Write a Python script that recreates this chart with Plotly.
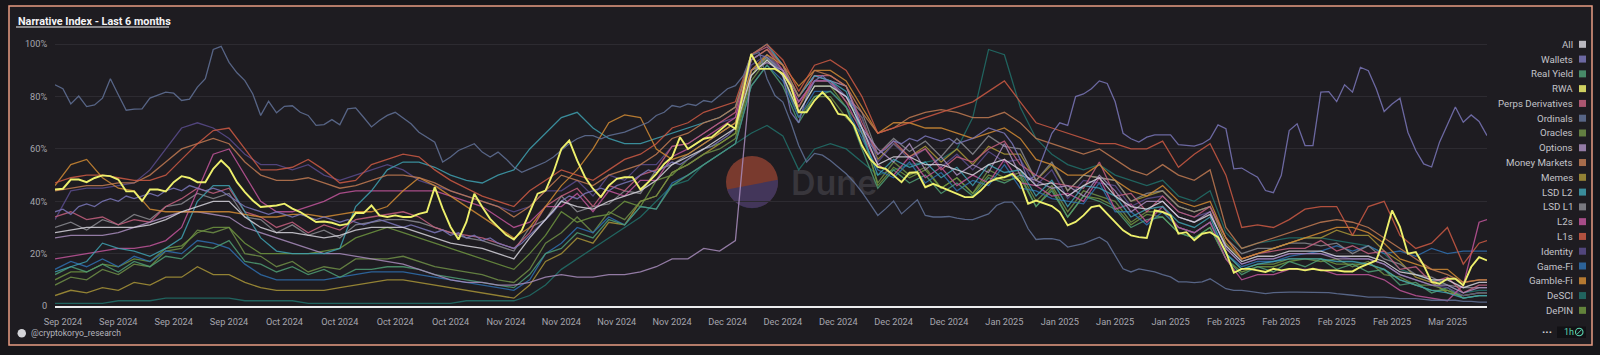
import base64
import pandas as pd
import plotly.graph_objects as go

# ---------------- data ----------------
START = "2024-09-07"
daily_dates = pd.date_range(START, periods=182, freq="D")
coarse_dates = list(pd.date_range(START, periods=91, freq="2D")) + [daily_dates[-1]]
tick_dates = pd.date_range("2024-09-08", periods=26, freq="7D")
tick_labels = [d.strftime("%b %Y") for d in tick_dates]
y_ticks = [0, 20, 40, 60, 80, 100]
y_tick_labels = ["0", "20%", "40%", "60%", "80%", "100%"]

legend_order = ["All", "Wallets", "Real Yield", "RWA", "Perps Derivatives", "Ordinals",
                "Oracles", "Options", "Money Markets", "Memes", "LSD L2", "LSD L1",
                "L2s", "L1s", "Identity", "Game-Fi", "Gamble-Fi", "DeSCI", "DePIN"]

colors = {
    "All": "#d6d4dc", "Wallets": "#7a76b8", "Real Yield": "#4f9d74", "RWA": "#eef06c",
    "Perps Derivatives": "#c4607f", "Ordinals": "#627298", "Oracles": "#6f8f47",
    "Options": "#a88cbc", "Money Markets": "#c07a52", "Memes": "#a89438",
    "LSD L2": "#3fa0b0", "LSD L1": "#8a8a90", "L2s": "#c0559a", "L1s": "#cc5a44",
    "Identity": "#5a4c8c", "Game-Fi": "#2f6fae", "Gamble-Fi": "#d08a34",
    "DeSCI": "#22706a", "DePIN": "#6e9440",
}

# daily series (%)
rwa = [44.5, 44.8, 48.3, 48.3, 47.3, 48.9, 49.9, 49.6, 48.3, 43.8, 43.8, 40.1, 44.5, 44.5, 43.8, 47.3,
       49.6, 48.9, 47.3, 47.3, 52.4, 55.6, 52.7, 47.3, 43.5, 40.3, 37.8, 38.2, 38.4, 39.1, 37.2, 35.9,
       34, 32.1, 32.3, 31.8, 30.8, 31.4, 35.5, 35.5, 38.4, 34.6, 34, 34.6, 34, 34, 35.2,
       35.9, 45.4, 37.2, 30.2, 25.4, 32.1, 42.9, 37.8, 33.3, 30.2, 27.2, 25.4, 28.9, 35.9, 42.9, 44.1,
       51.1, 60, 63.2, 55.6, 49.2, 44.8, 41.6, 46, 48.6, 49.2, 49.2, 44.5, 47.3, 50.5, 54.3, 56.9,
       64.5, 60, 62, 63.9, 64.5, 67, 69.6, 67.7, 81.7, 96.3, 90.6, 90.6,
       90.6, 88.7, 84.2, 74, 74, 78.5, 81.7, 78.5, 73.4, 72.8, 69, 61.3, 56.2, 53.1, 52.4, 49.9,
       47.3, 50.9, 51.1, 45.4, 46.7, 45.4, 44.1, 42.9, 41.6, 41.6, 44.1, 47.3, 48.6, 49.2, 50.5, 47.3,
       39.1, 40.3, 39.1, 38.2, 35.9, 30.8, 32.1, 34.6, 37.8, 38.4, 35.2, 32.1, 28.9, 27, 26.3,
       26, 36.5, 35.9, 34.6, 27.6, 28.2, 25.1, 27.6, 28.2, 26.3, 20.6, 12.7, 14.2, 14.2, 13.6, 13,
       14.2, 13.6, 14.2, 14.2, 13.6, 14.2, 13.6, 13.6, 13.6, 13.2, 13.2, 14.9, 16.2, 17.4, 25.7, 36.5,
       30.2, 20, 20.6, 15.5, 9.2, 8.5, 10.4, 10.4, 7.9, 14.9, 18.7, 17.4]

ordinals = [84.5, 83, 77.2, 80.2, 76.2, 76.8, 79.4, 86.8, 80.7, 74.8, 75.2, 75.3, 79.4, 80.4, 81.7, 81.3,
            78.5, 79, 83.6, 86.8, 98, 99.2, 93.1, 89.1, 86.1, 81, 72.8, 78.2, 73.8, 76.3, 76.5, 74,
            72.8, 69, 69.3, 71.2, 69.2, 75.3, 75.7, 72.1, 68.4, 70.9, 72.8, 74, 71.9, 69.6, 66.4,
            64.5, 62.6, 55, 56.9, 59.4, 60.7, 62, 58.8, 56.9, 58.8, 56.2, 53.1, 51.1, 52.4, 53.7, 55,
            56.9, 59.4, 62, 63.9, 65.1, 65.1, 63.9, 65.1, 65.8, 66.4, 67.7, 69, 70.2, 72.8, 74, 76.6,
            76, 77.2, 76.6, 78.5, 77.9, 80.4, 83, 84.2, 88, 95.7, 96.9, 86.8,
            80.4, 77.9, 70.2, 61.3, 55, 58.3, 57.6, 55.6, 53.1, 50.5, 47.3, 43.5, 39.1, 34.6, 37.2, 40.1,
            35.2, 37.8, 40.6, 34.6, 34, 34, 34.2, 33.6, 33.1, 33, 34, 35.2, 38.4, 39.7, 39.7, 35.9,
            29.5, 25.4, 25.7, 25.7, 25.1, 22.5, 23.2, 23.8, 25.1, 26.3, 24.4, 19.3, 14.2, 13, 14.2,
            13.6, 13, 12, 11.1, 9.2, 9.2, 8.9, 9.2, 10.4, 8.5, 6.6, 6, 6, 5.6, 5.1, 4.7,
            5.1, 5.3, 5.3, 5.3, 5.3, 5.3, 5.3, 5.1, 4.7, 4.3, 4.1, 3.8, 3.4, 3.4, 3.4, 3.1,
            2.8, 2.8, 2.8, 2.5, 2.2, 2.2, 2.2, 2.2, 1.8, 1.8, 1.5, 1.5]

wallets = [36, 37, 35, 38, 39, 38, 40, 41, 40, 42,
           41, 42, 43, 42, 44, 45, 44, 46, 45, 44,
           45, 44, 42, 40, 38, 37, 36, 35, 36, 35,
           34, 35, 34, 33, 34, 33, 32, 33, 32, 31,
           32, 33, 32, 31, 30, 31, 30, 29, 28, 29,
           27, 28, 26, 27, 25, 26, 24, 23, 22, 24,
           27, 30, 33, 36, 40, 42, 41, 43, 44, 45,
           44, 46, 47, 48, 50, 52, 51, 53, 55, 54,
           56, 58, 60, 61, 63, 65, 68, 82, 94, 96,
           95, 92, 88, 74, 70, 80, 86, 88, 85, 82,
           80, 76, 68, 62, 58, 60, 63, 62, 64, 63,
           65, 64, 63, 64, 62, 63, 64, 66, 68, 67,
           66, 62, 56, 48, 50, 58, 66, 70, 69, 80,
           81, 83, 86, 85, 78, 66,
           63.9, 62.6, 64.5, 65.4, 65.4, 65.4, 61.6, 61.3, 61.1, 62, 63.9, 69.2, 67.7, 52.4, 52.7, 50.9,
           49.2, 44.1, 43.3, 49.9, 67, 69.6, 61.3, 61.3, 81.7, 81.9, 78.1, 84.5, 81.7, 91.2, 89.9, 83,
           74.3, 77.2, 79.4, 66.4, 59.4, 54.3, 53.1, 62.6, 69, 76, 70.2, 73, 70.5, 65.1]

# two-day series (%)
all_idx = [28, 29, 30, 30, 30, 30, 31, 33, 36, 38,
           40, 40, 34, 30, 28, 28, 27, 26, 27, 29,
           30, 30, 30, 28, 26, 24, 23, 22, 20, 18,
           26, 33, 40, 38, 37, 40, 42, 44, 48, 54,
           57, 60, 64, 68, 88, 94, 88, 74, 84, 84,
           80, 68, 54, 57, 57, 54, 54, 52, 50, 54,
           56, 52, 46, 47, 42, 46, 49, 42, 38, 37,
           40, 34, 32, 35, 23, 17, 19, 19, 21, 21,
           21, 19, 19, 19, 17, 13, 12, 10, 10, 7,
           9, 9]
real_yield = [12, 15, 13, 16, 13, 17, 15, 19, 18, 23,
              22, 25, 17, 16, 13, 15, 12, 14, 11, 14,
              14, 15, 15, 14, 12, 11, 10, 9, 8, 7,
              12, 20, 22, 28, 26, 33, 31, 38, 37, 46,
              50, 54, 58, 62, 84, 92, 84, 70, 80, 82,
              76, 60, 45, 52, 47, 50, 43, 47, 42, 49,
              47, 50, 38, 44, 34, 42, 40, 37, 30, 33,
              34, 28, 26, 30, 18, 12, 15, 13, 17, 15,
              18, 14, 16, 13, 14, 8, 9, 5, 7, 3,
              4, 4]
perps = [34, 36, 33, 34, 31, 33, 32, 38, 41, 45,
         43, 45, 36, 34, 30, 32, 28, 31, 29, 33,
         34, 35, 36, 34, 30, 28, 27, 26, 24, 22,
         28, 38, 42, 45, 38, 46, 44, 50, 52, 61,
         62, 66, 70, 74, 96, 99, 92, 76, 88, 88,
         84, 70, 58, 63, 57, 60, 52, 57, 55, 60,
         63, 54, 50, 47, 46, 45, 55, 42, 43, 36,
         42, 36, 34, 38, 26, 18, 20, 21, 22, 22,
         25, 21, 23, 20, 21, 14, 15, 9, 11, 5,
         8, 8]
oracles = [8, 11, 10, 14, 12, 16, 15, 21, 22, 29,
           28, 30, 20, 19, 15, 17, 13, 15, 14, 18,
           18, 18, 19, 17, 15, 14, 13, 12, 10, 9,
           14, 24, 28, 34, 28, 36, 33, 40, 42, 51,
           54, 58, 60, 64, 86, 94, 88, 72, 80, 80,
           72, 66, 47, 55, 50, 53, 45, 49, 43, 52,
           49, 51, 40, 46, 36, 44, 42, 40, 32, 36,
           36, 30, 28, 32, 20, 14, 16, 16, 18, 18,
           17, 18, 15, 17, 12, 11, 8, 8, 6, 4,
           5, 5]
options = [26, 27, 27, 27, 28, 30, 32, 34, 36, 36,
           35, 34, 30, 28, 26, 24, 22, 20, 20, 19,
           18, 17, 16, 14, 12, 10, 9, 9, 8, 8,
           9, 11, 12, 11, 11, 12, 12, 13, 15, 18,
           18, 22, 21, 25, 90, 93, 90, 80, 88, 86,
           84, 68, 60, 55, 62, 52, 57, 50, 54, 51,
           62, 50, 48, 45, 46, 42, 50, 44, 36, 40,
           40, 34, 32, 36, 22, 16, 18, 18, 20, 20,
           20, 18, 18, 18, 16, 12, 10, 8, 8, 5,
           7, 7]
money_markets = [44, 45, 46, 46, 47, 47, 50, 55, 60, 62,
                 64, 62, 55, 50, 48, 48, 49, 47, 45, 46,
                 48, 50, 50, 49, 47, 44, 42, 40, 38, 34,
                 38, 44, 50, 48, 46, 50, 52, 54, 58, 64,
                 66, 70, 72, 76, 94, 98, 92, 80, 90, 88,
                 84, 74, 66, 68, 72, 74, 75, 74, 72, 72,
                 74, 70, 64, 62, 60, 58, 60, 56, 52, 50,
                 54, 50, 48, 52, 30, 22, 24, 26, 28, 30,
                 32, 33, 32, 30, 26, 22, 18, 14, 12, 9,
                 10, 10]
l1s = [47, 49, 50, 50, 49, 48, 48, 50, 56, 62,
       67, 68, 60, 52, 52, 53, 56, 52, 47, 48,
       54, 56, 58, 57, 52, 48, 45, 42, 40, 38,
       44, 48, 52, 50, 48, 52, 56, 58, 62, 68,
       70, 74, 76, 78, 96, 100, 94, 82, 92, 94,
       90, 80, 66, 68, 70, 72, 74, 76, 78, 82,
       86, 78, 70, 68, 66, 64, 62, 62, 60, 60,
       63, 53, 58, 62, 50, 30, 31, 30, 33, 37,
       38, 38, 27, 38, 40, 27, 22, 24, 30, 16,
       24, 25]
lsd_l2 = [13, 15, 17, 24, 22, 21, 19, 22, 26, 40,
          46, 46, 36, 26, 21, 20, 20, 20, 22, 38,
          44, 52, 55, 55, 53, 50, 48, 47, 50, 52,
          60, 66, 72, 74, 68, 64, 62, 62, 64, 66,
          68, 70, 72, 76, 96, 100, 92, 80, 88, 86,
          82, 66, 50, 56, 53, 55, 49, 53, 46, 54,
          51, 52, 42, 48, 38, 46, 45, 42, 34, 37,
          38, 32, 30, 34, 20, 14, 16, 17, 18, 18,
          18, 17, 17, 16, 14, 10, 8, 6, 5, 3,
          4, 4]
lsd_l1 = [30, 32, 29, 33, 31, 35, 33, 38, 39, 43,
          41, 43, 34, 33, 28, 31, 27, 29, 26, 31,
          32, 33, 33, 32, 30, 28, 26, 25, 23, 21,
          30, 33, 42, 36, 38, 39, 44, 43, 52, 54,
          58, 62, 66, 70, 90, 95, 90, 78, 86, 86,
          80, 74, 58, 64, 59, 63, 57, 64, 58, 65,
          61, 60, 48, 55, 44, 50, 49, 48, 40, 43,
          44, 38, 36, 38, 26, 20, 22, 22, 24, 24,
          23, 24, 20, 23, 18, 16, 12, 11, 8, 7,
          7, 7]
l2s = [18, 19, 20, 21, 22, 22, 23, 25, 30, 44,
       58, 60, 50, 40, 36, 36, 38, 40, 43, 44,
       44, 44, 44, 44, 44, 42, 40, 38, 34, 30,
       32, 38, 38, 43, 36, 44, 42, 48, 48, 57,
       60, 64, 68, 72, 94, 98, 90, 78, 86, 86,
       78, 66, 54, 50, 57, 49, 53, 46, 50, 47,
       56, 47, 46, 42, 43, 40, 49, 37, 39, 32,
       38, 30, 28, 32, 18, 10, 12, 12, 14, 14,
       14, 12, 12, 12, 10, 6, 4, 3, 2, 8,
       32, 33]
identity = [33, 44, 45, 45, 46, 47, 52, 60, 68, 70,
            68, 64, 58, 54, 54, 52, 54, 50, 48, 50,
            52, 54, 52, 48, 46, 44, 42, 40, 38, 36,
            38, 44, 44, 48, 42, 50, 48, 54, 54, 61,
            62, 66, 70, 72, 92, 96, 90, 78, 86, 86,
            80, 72, 55, 62, 56, 60, 53, 58, 52, 59,
            55, 56, 46, 52, 41, 48, 47, 46, 38, 41,
            42, 36, 34, 36, 22, 16, 18, 18, 20, 20,
            20, 19, 18, 18, 16, 12, 10, 8, 7, 4,
            5, 5]
game_fi = [14, 17, 15, 18, 15, 19, 17, 21, 20, 25,
           24, 22, 16, 12, 10, 10, 10, 10, 11, 12,
           13, 13, 13, 12, 11, 10, 9, 8, 7, 6,
           10, 20, 24, 30, 28, 34, 31, 38, 37, 47,
           50, 54, 58, 62, 84, 92, 86, 72, 82, 82,
           76, 64, 52, 49, 55, 47, 51, 44, 48, 46,
           54, 45, 44, 41, 40, 39, 47, 36, 36, 31,
           36, 30, 28, 32, 20, 15, 17, 17, 19, 20,
           21, 23, 21, 23, 20, 21, 19, 22, 20, 21,
           21, 21]
gamble_fi = [46, 54, 56, 49, 45, 44, 37, 36, 36, 36,
             36, 36, 35, 34, 34, 35, 35, 34, 35, 36,
             36, 38, 44, 49, 46, 42, 38, 34, 30, 26,
             30, 38, 46, 52, 60, 70, 73, 72, 60, 56,
             58, 62, 66, 70, 90, 96, 92, 84, 90, 90,
             86, 76, 66, 70, 70, 68, 68, 66, 64, 66,
             68, 64, 56, 54, 50, 50, 54, 48, 44, 42,
             46, 40, 38, 40, 26, 18, 20, 22, 24, 26,
             28, 30, 30, 28, 24, 18, 16, 14, 14, 9,
             10, 10]
desci = [1, 1, 1, 1, 2, 2, 2, 3, 3, 3,
         3, 3, 2, 2, 2, 2, 1, 1, 1, 1,
         1, 1, 1, 1, 1, 1, 2, 2, 2, 2,
         4, 8, 14, 18, 22, 26, 30, 34, 40, 46,
         48, 54, 58, 62, 66, 69, 65, 52, 60, 62,
         60, 55, 50, 52, 54, 55, 56, 60, 72, 98,
         96, 76, 64, 58, 54, 52, 54, 50, 48, 46,
         48, 42, 40, 44, 28, 22, 24, 25, 26, 26,
         26, 25, 24, 23, 20, 14, 12, 10, 8, 5,
         6, 6]
depin = [10, 13, 13, 16, 15, 18, 17, 22, 23, 28,
         30, 30, 24, 20, 20, 20, 20, 21, 22, 26,
         28, 30, 28, 26, 24, 22, 20, 18, 16, 14,
         20, 27, 36, 32, 34, 35, 40, 38, 48, 50,
         56, 60, 62, 66, 88, 95, 88, 74, 84, 84,
         76, 68, 46, 53, 49, 52, 45, 49, 43, 50,
         48, 49, 38, 45, 34, 42, 41, 38, 31, 35,
         34, 28, 26, 30, 18, 13, 15, 15, 17, 18,
         18, 16, 16, 16, 14, 10, 8, 6, 6, 3,
         4, 4]
memes = [4, 6, 5, 7, 6, 9, 8, 11, 11, 15,
         12, 12, 9, 7, 6, 6, 6, 6, 7, 8,
         9, 10, 10, 9, 8, 7, 6, 5, 4, 3,
         8, 17, 20, 26, 24, 32, 31, 40, 42, 51,
         54, 58, 62, 66, 88, 96, 90, 76, 86, 86,
         78, 72, 56, 62, 57, 61, 55, 60, 54, 61,
         58, 58, 48, 54, 44, 50, 49, 48, 40, 42,
         44, 38, 36, 38, 24, 18, 20, 22, 24, 26,
         26, 29, 27, 27, 21, 17, 11, 9, 5, 4,
         5, 5]

series = {
    "All": (coarse_dates, all_idx), "Wallets": (daily_dates, wallets),
    "Real Yield": (coarse_dates, real_yield), "RWA": (daily_dates, rwa),
    "Perps Derivatives": (coarse_dates, perps), "Ordinals": (daily_dates, ordinals),
    "Oracles": (coarse_dates, oracles), "Options": (coarse_dates, options),
    "Money Markets": (coarse_dates, money_markets), "Memes": (coarse_dates, memes),
    "LSD L2": (coarse_dates, lsd_l2), "LSD L1": (coarse_dates, lsd_l1),
    "L2s": (coarse_dates, l2s), "L1s": (coarse_dates, l1s),
    "Identity": (coarse_dates, identity), "Game-Fi": (coarse_dates, game_fi),
    "Gamble-Fi": (coarse_dates, gamble_fi), "DeSCI": (coarse_dates, desci),
    "DePIN": (coarse_dates, depin),
}
for nm, (xx, yy) in series.items():
    assert len(xx) == len(yy), (nm, len(xx), len(yy))

draw_order = ["DeSCI", "Memes", "Oracles", "DePIN", "Game-Fi", "Real Yield", "LSD L1",
              "Identity", "L2s", "Perps Derivatives", "Options", "LSD L2", "Gamble-Fi",
              "Money Markets", "L1s", "Ordinals", "Wallets", "All", "RWA"]

# ---------------- geometry helpers ----------------
W, H = 1600, 355
L, R, T, B = 55, 113, 39, 49
PW, PH = W - L - R, H - T - B
BG = "#1e1c21"
OUTER = "#17161a"


def px(xp):
    return (xp - L) / PW


def py(yp):
    return (H - B - yp) / PH


fig = go.Figure()
for nm in draw_order:
    xx, yy = series[nm]
    fig.add_trace(go.Scatter(
        x=xx, y=yy, mode="lines", name=nm,
        line=dict(color=colors[nm], width=1.9 if nm == "RWA" else 1.3),
        opacity=1.0 if nm == "RWA" else 0.85,
        hoverinfo="skip", showlegend=False))

shapes = []
annotations = []

# outer strips + panel border
for (x0, y0, x1, y1) in [(0, 0, W, 6), (0, 345, W, H), (0, 0, 9, H), (1592, 0, W, H)]:
    shapes.append(dict(type="rect", xref="paper", yref="paper", x0=px(x0), x1=px(x1),
                       y0=py(y1), y1=py(y0), fillcolor=OUTER, line=dict(width=0), layer="below"))
shapes.append(dict(type="rect", xref="paper", yref="paper", x0=px(9), x1=px(1592),
                   y0=py(345), y1=py(6), line=dict(color="#e89c82", width=1.5),
                   fillcolor="rgba(0,0,0,0)", layer="above"))

# title
annotations.append(dict(text="<b>Narrative Index - Last 6 months</b>", xref="paper", yref="paper",
                        x=px(15.5), y=py(21), xanchor="left", yanchor="middle", showarrow=False,
                        font=dict(family="Roboto", size=10.8, color="#f4f4f6")))
shapes.append(dict(type="line", xref="paper", yref="paper", x0=px(16), x1=px(169),
                   y0=py(27), y1=py(27), line=dict(color="#f0f0f2", width=1)))

# legend (right side, text right-aligned with swatch on the right)
for i, nm in enumerate(legend_order):
    yc = 44.3 + i * 14.78
    annotations.append(dict(text=nm, xref="paper", yref="paper", x=px(1574.5), y=py(yc),
                            xanchor="right", yanchor="middle", showarrow=False,
                            font=dict(family="Roboto", size=9.7, color="#c3c3c9")))
    shapes.append(dict(type="rect", xref="paper", yref="paper", x0=px(1579), x1=px(1586),
                       y0=py(yc + 3.5), y1=py(yc - 3.5), fillcolor=colors[nm],
                       line=dict(width=0), opacity=0.85))

# footer
shapes.append(dict(type="circle", xref="paper", yref="paper", x0=px(17.5), x1=px(26),
                   y0=py(337.5), y1=py(329), fillcolor="#d4d4d8", line=dict(width=0)))
annotations.append(dict(text="@cryptokoryo_research", xref="paper", yref="paper", x=px(29),
                        y=py(333), xanchor="left", yanchor="middle", showarrow=False,
                        font=dict(family="Roboto", size=8.6, color="#b4b4bc")))
annotations.append(dict(text="<b>···</b>", xref="paper", yref="paper", x=px(1547), y=py(332),
                        xanchor="center", yanchor="middle", showarrow=False,
                        font=dict(family="Roboto", size=11, color="#d8d8dc")))
shapes.append(dict(type="rect", xref="paper", yref="paper", x0=px(1557), x1=px(1586),
                   y0=py(338), y1=py(326.5), fillcolor="#121115", line=dict(width=0)))
annotations.append(dict(text="1h", xref="paper", yref="paper", x=px(1562), y=py(332.2),
                        xanchor="left", yanchor="middle", showarrow=False,
                        font=dict(family="Roboto", size=9, color="#5cd6b0")))
shapes.append(dict(type="circle", xref="paper", yref="paper", x0=px(1575.5), x1=px(1583),
                   y0=py(335.8), y1=py(328.3), line=dict(color="#5cd6b0", width=1.1)))
shapes.append(dict(type="line", xref="paper", yref="paper", x0=px(1577.3), x1=px(1581.2),
                   y0=py(334), y1=py(330), line=dict(color="#5cd6b0", width=1)))

# Dune watermark as an inline SVG image below the traces
svg = ('<svg xmlns="http://www.w3.org/2000/svg" width="170" height="54" viewBox="0 0 170 54">'
       '<circle cx="26" cy="26" r="26" fill="rgb(196,84,58)" fill-opacity="0.55"/>'
       '<path d="M 51.9 23.7 A 26 26 0 0 1 1.1 33.6 Z" fill="rgb(44,52,110)" fill-opacity="0.7"/>'
       '<text x="65" y="39" font-family="Inter, Roboto, sans-serif" font-weight="600" '
       'font-size="34" fill="#38363c">Dune</text></svg>')
src = "data:image/svg+xml;base64," + base64.b64encode(svg.encode()).decode()

fig.update_layout(
    width=W, height=H,
    margin=dict(l=L, r=R, t=T, b=B, pad=0),
    paper_bgcolor=BG, plot_bgcolor="rgba(0,0,0,0)",
    font=dict(family="Roboto", size=9.2, color="#a6a6ae"),
    showlegend=False, hovermode=False,
    shapes=shapes, annotations=annotations,
    images=[dict(source=src, xref="paper", yref="paper", x=px(726), y=py(156),
                 sizex=170 / PW, sizey=54 / PH, xanchor="left", yanchor="top",
                 sizing="stretch", layer="below")],
    xaxis=dict(type="date", range=[daily_dates[0], daily_dates[-1]],
               tickvals=list(tick_dates), ticktext=tick_labels, showgrid=False,
               showline=True, linecolor="#ececee", linewidth=2, zeroline=False,
               ticks="outside", ticklen=6, tickcolor="rgba(0,0,0,0)",
               tickfont=dict(family="Roboto", size=9.2, color="#a6a6ae"), fixedrange=True),
    yaxis=dict(range=[0, 102], tickvals=y_ticks, ticktext=y_tick_labels,
               showgrid=True, gridcolor="#2d2b31", gridwidth=1, zeroline=False,
               showline=False, ticks="outside", ticklen=5, tickcolor="rgba(0,0,0,0)",
               tickfont=dict(family="Roboto", size=9.2, color="#a6a6ae"), fixedrange=True),
)

fig.write_html("out.html", include_plotlyjs=True, config={"displayModeBar": False},
               post_script="document.body.style.margin='0px';document.body.style.overflow='hidden';")
